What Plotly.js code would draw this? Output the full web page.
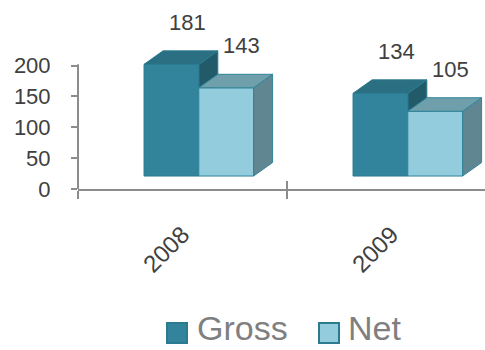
<!DOCTYPE html>
<html><head><meta charset="utf-8">
<script src="https://cdn.plot.ly/plotly-3.0.1.min.js"></script>
<style>html,body{margin:0;padding:0;background:#fff;}#chart{width:485px;height:350px;}</style>
</head><body><div id="chart"></div>
<script>
// ---- data ----
const years = ['2008', '2009'];
const gross = [181, 134];
const net = [143, 105];
const yTicks = [0, 50, 100, 150, 200];
const seriesNames = ['Gross', 'Net'];

// ---- styling / geometry constants ----
const FONT = 'Liberation Sans, Arial, sans-serif';
const AXIS_COL = '#8C8C8C';
const TXT = '#404040';
const FLOOR = 21;          // 3D floor of the bar fronts, in y units
const DX = 0.091, DY = 21.9; // depth offset (x in category units, y in value units)
const W = 0.262;
const OFFS = [-0.184, 0.078];
const COLS = [
  {front: '#31849B', top: '#2A6F82', side: '#215A69', line: '#2C7A8F'},
  {front: '#93CDDD', top: '#6E9FAB', side: '#5F8691', line: '#31849B'}
];
const ML = 78, MT = 44, MB = 161, H = 350, WD = 485;
const PW = WD - ML, PH = H - MT - MB;
const CAT_PX = 209;
const xIdx = years.map((_, i) => i);
const bounds = [-0.5].concat(xIdx.map(i => i + 0.5));
const xRange = [-0.5, -0.5 + PW / CAT_PX];
const yRange = [0, 235];
const px2x = px => (px - ML) / PW;
const py2y = py => (H - MB - py) / PH;

const seriesVals = [gross, net];
const traces = seriesVals.map((vals, s) => ({
  type: 'bar', name: seriesNames[s], x: xIdx, y: vals, base: FLOOR,
  width: W, offset: OFFS[s], showlegend: false,
  marker: {color: COLS[s].front, line: {color: COLS[s].line, width: 1}},
  hoverinfo: 'y+name'
}));
// dummy trace for overlay axis (inner halves of x ticks)
traces.push({type: 'scatter', x: [0], y: [0], xaxis: 'x2', yaxis: 'y', mode: 'markers',
  marker: {opacity: 0}, showlegend: false, hoverinfo: 'skip'});

const shapes = [];
function poly(pts) {
  return 'M' + pts.map(p => p[0] + ',' + p[1]).join('L') + 'Z';
}
seriesVals.forEach((vals, s) => {
  vals.forEach((v, i) => {
    const x0 = i + OFFS[s], x1 = x0 + W;
    const top = FLOOR + v, b = FLOOR;
    const layer = s === 0 ? 'below' : 'above';
    shapes.push({type: 'path', xref: 'x', yref: 'y', layer: layer,
      path: poly([[x1, b], [x1, top], [x1 + DX, top + DY], [x1 + DX, b + DY]]),
      fillcolor: COLS[s].side, line: {color: COLS[s].line, width: 1}});
    shapes.push({type: 'path', xref: 'x', yref: 'y', layer: layer,
      path: poly([[x0, top], [x1, top], [x1 + DX, top + DY], [x0 + DX, top + DY]]),
      fillcolor: COLS[s].top, line: {color: COLS[s].line, width: 1}});
  });
});
// y axis line up to the top tick
shapes.push({type: 'line', xref: 'paper', yref: 'y', x0: 0, x1: 0,
  y0: 0, y1: Math.max(...yTicks) + 2, line: {color: AXIS_COL, width: 2}, layer: 'above'});

const annotations = [];
seriesVals.forEach((vals, s) => {
  vals.forEach((v, i) => {
    annotations.push({xref: 'x', yref: 'y', x: i + OFFS[s] + W / 2 + 0.075,
      y: v + FLOOR + DY, yanchor: 'bottom', yshift: 14, showarrow: false,
      text: String(v), font: {family: FONT, size: 22, color: TXT}});
  });
});

// custom legend
const legendItems = [
  {sq: [167, 187], text: 196},
  {sq: [319, 339], text: 347}
];
legendItems.forEach((it, s) => {
  shapes.push({type: 'rect', xref: 'paper', yref: 'paper',
    x0: px2x(it.sq[0]), x1: px2x(it.sq[1]), y0: py2y(343), y1: py2y(323),
    fillcolor: COLS[s].front, line: {color: COLS[0].line, width: 2}});
  annotations.push({xref: 'paper', yref: 'paper', x: px2x(it.text), y: py2y(328),
    xanchor: 'left', yanchor: 'middle', showarrow: false, text: seriesNames[s],
    font: {family: FONT, size: 34, color: '#7F7F7F'}, borderpad: 0});
});

const layout = {
  width: WD, height: H,
  margin: {l: ML, r: 0, t: MT, b: MB, pad: 0},
  paper_bgcolor: '#fff', plot_bgcolor: '#fff',
  showlegend: false,
  font: {family: FONT, color: TXT},
  xaxis: {type: 'linear', range: xRange, tickvals: xIdx, ticktext: years,
    ticks: '', tickangle: -45, tickfont: {family: FONT, size: 24, color: TXT},
    ticklabelstandoff: 20,
    showline: true, linecolor: AXIS_COL, linewidth: 2, showgrid: false, zeroline: false,
    minor: {tickmode: 'array', tickvals: bounds, ticks: 'outside', ticklen: 8, tickwidth: 2, tickcolor: AXIS_COL, showgrid: false},
    fixedrange: true},
  xaxis2: {type: 'linear', overlaying: 'x', anchor: 'y', side: 'bottom', range: xRange,
    tickmode: 'array', tickvals: bounds, ticks: 'inside', ticklen: 8, tickwidth: 2, tickcolor: AXIS_COL,
    showticklabels: false, showline: false, showgrid: false, zeroline: false},
  yaxis: {range: yRange, tickvals: yTicks, ticks: 'outside', ticklen: 6, tickwidth: 2,
    tickcolor: AXIS_COL, tickfont: {family: FONT, size: 22, color: TXT},
    ticklabelstandoff: 16,
    showline: false, showgrid: false, zeroline: false, fixedrange: true},
  shapes: shapes,
  annotations: annotations
};

Plotly.newPlot('chart', traces, layout, {displayModeBar: false, staticPlot: true});
</script>
</body></html>
